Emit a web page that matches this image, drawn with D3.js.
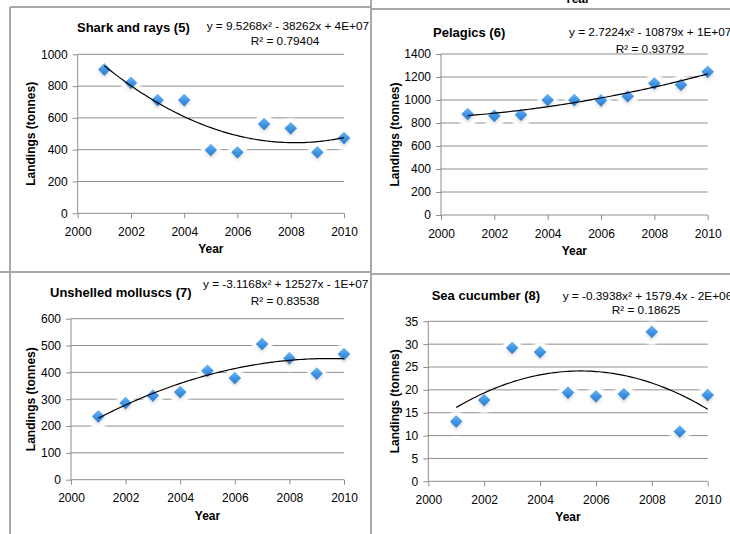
<!DOCTYPE html>
<html><head><meta charset="utf-8">
<script src="https://cdn.jsdelivr.net/npm/d3@7"></script>
<style>body{margin:0;background:#fff}svg{display:block;font-family:"Liberation Sans",Arial,sans-serif}</style>
</head><body><svg id="c" width="730" height="534"></svg>
<script>
// ---- data ----
const years = [2001, 2002, 2003, 2004, 2005, 2006, 2007, 2008, 2009, 2010];
const sharkRays   = [905, 821, 712, 712, 398, 384, 562, 535, 384, 474];
const pelagics    = [878, 864, 872, 1000, 1000, 997, 1032, 1145, 1133, 1246];
const molluscs    = [236, 286, 314, 327, 406, 379, 506, 453, 396, 468];
const seaCucumber = [13.1, 17.8, 29.2, 28.3, 19.4, 18.6, 19.1, 32.7, 10.9, 18.9];
const titles = ["Shark and rays (5)", "Pelagics (6)", "Unshelled molluscs (7)", "Sea cucumber (8)"];
const equations = ["y = 9.5268x² - 38262x + 4E+07", "y = 2.7224x² - 10879x + 1E+07",
                   "y = -3.1168x² + 12527x - 1E+07", "y = -0.3938x² + 1579.4x - 2E+06"];
const r2Labels = ["R² = 0.79404", "R² = 0.93792", "R² = 0.83538", "R² = 0.18625"];
const xTicks = [2000, 2002, 2004, 2006, 2008, 2010];
const yTicksShark = [0, 200, 400, 600, 800, 1000];
const yTicksPelagic = [0, 200, 400, 600, 800, 1000, 1200, 1400];
const yTicksMollusc = [0, 100, 200, 300, 400, 500, 600];
const yTicksCucumber = [0, 5, 10, 15, 20, 25, 30, 35];

// ---- layout ----
const layout = [
  {L:77.7, R:344,   T:54.3,  B:213.3, tx:77,    ty:32,    ex:206.7, ey:29.5,  rx:285, ry:44.5,  ylx:34.5},
  {L:441,  R:707.7, T:54,    B:215,   tx:433,   ty:36.5,  ex:569,   ey:36,    rx:650, ry:52.5,  ylx:399},
  {L:71,   R:344,   T:318.7, B:479.7, tx:50,    ty:296.5, ex:203,   ey:288,   rx:285, ry:304.5, ylx:35},
  {L:428.3,R:707.7, T:321.3, B:481.3, tx:431.7, ty:300,   ex:562.7, ey:299.5, rx:646, ry:314,   ylx:399}
];
const seriesList = [sharkRays, pelagics, molluscs, seaCucumber];
const tickList = [yTicksShark, yTicksPelagic, yTicksMollusc, yTicksCucumber];

const svg = d3.select("#c");
const defs = svg.append("defs");
const g = defs.append("linearGradient").attr("id","mk").attr("x1",0).attr("y1",0).attr("x2",0).attr("y2",1);
g.append("stop").attr("offset","0%").attr("stop-color","#6cb6f4");
g.append("stop").attr("offset","55%").attr("stop-color","#3f92e2");
g.append("stop").attr("offset","100%").attr("stop-color","#2c7ccf");
defs.append("filter").attr("id","halo").attr("x","-50%").attr("y","-50%").attr("width","200%").attr("height","200%")
  .append("feGaussianBlur").attr("stdDeviation",1.2);
defs.append("filter").attr("id","shd").attr("x","-50%").attr("y","-50%").attr("width","200%").attr("height","200%")
  .append("feGaussianBlur").attr("stdDeviation",1.5);

// panel borders
const borderColor = "#a8a8a8";
[[10,7,10,534],[10,7,371,7],[371,0,371,534],[371,9,730,9],[0,272,371,272],[371,274,730,274]]
  .forEach(d => svg.append("line").attr("x1",d[0]).attr("y1",d[1]).attr("x2",d[2]).attr("y2",d[3])
    .attr("stroke",borderColor).attr("stroke-width",2));

// clipped "Year" from a chart above
svg.append("text").attr("x",577).attr("y",3).attr("text-anchor","middle")
  .attr("font-size",12).attr("font-weight","bold").attr("fill","#000").text("Year");

function quadFit(xs, ys){
  const m = d3.mean(xs);
  const u = xs.map(x => x - m);
  const S = k => d3.sum(u, v => Math.pow(v,k));
  const T = k => d3.sum(u, (v,i) => Math.pow(v,k)*ys[i]);
  const A = [[S(0),S(1),S(2)],[S(1),S(2),S(3)],[S(2),S(3),S(4)]];
  const bv = [T(0),T(1),T(2)];
  const det = M => M[0][0]*(M[1][1]*M[2][2]-M[1][2]*M[2][1]) - M[0][1]*(M[1][0]*M[2][2]-M[1][2]*M[2][0]) + M[0][2]*(M[1][0]*M[2][1]-M[1][1]*M[2][0]);
  const D = det(A);
  const coef = [0,1,2].map(j => det(A.map((row,i) => row.map((v,k) => k===j ? bv[i] : v))) / D);
  return x => { const t = x - m; return coef[0] + coef[1]*t + coef[2]*t*t; };
}

seriesList.forEach((vals, p) => {
  const lo = layout[p];
  const ticks = tickList[p];
  const x = d3.scaleLinear().domain([2000, 2010]).range([lo.L, lo.R]);
  const y = d3.scaleLinear().domain([0, d3.max(ticks)]).range([lo.B, lo.T]);
  const gp = svg.append("g");

  // gridlines
  gp.selectAll(".grid").data(ticks.filter(t => t > 0)).enter().append("line")
    .attr("x1", lo.L).attr("x2", lo.R).attr("y1", d => y(d)).attr("y2", d => y(d))
    .attr("stroke", "#8e8e8e").attr("stroke-width", 1);

  // axes
  const yAxis = d3.axisLeft(y).tickValues(ticks).tickSize(5).tickPadding(5).tickFormat(d3.format("d"));
  const ya = gp.append("g").attr("transform", `translate(${lo.L},0)`).call(yAxis);
  const xAxis = d3.axisBottom(x).tickValues(xTicks).tickSize(5).tickPadding(9).tickFormat(d3.format("d"));
  const xa = gp.append("g").attr("transform", `translate(0,${lo.B})`).call(xAxis);
  [ya, xa].forEach(a => {
    a.select(".domain").attr("stroke", "#8e8e8e").attr("stroke-width", 1);
    a.selectAll(".tick line").attr("stroke", "#8e8e8e");
    a.selectAll("text").attr("font-size", 12).attr("fill", "#000").attr("font-family", '"Liberation Sans",Arial,sans-serif');
  });
  xa.select(".domain").attr("d", `M${lo.L},0H${lo.R}`);
  ya.select(".domain").attr("d", `M0,${lo.B}V${lo.T}`);

  // axis titles
  gp.append("text").attr("x", (lo.L + lo.R)/2).attr("y", lo.B + 40).attr("text-anchor","middle")
    .attr("font-size", 12).attr("font-weight","bold").text("Year");
  gp.append("text").attr("transform", `translate(${lo.ylx},${(lo.T + lo.B)/2}) rotate(-90)`)
    .attr("text-anchor","middle").attr("font-size", 12).attr("font-weight","bold").text("Landings (tonnes)");

  // title + equation
  gp.append("text").attr("x", lo.tx).attr("y", lo.ty).attr("font-size", 13).attr("font-weight","bold").text(titles[p]);
  gp.append("text").attr("x", lo.ex).attr("y", lo.ey).attr("font-size", 11.8).text(equations[p]);
  gp.append("text").attr("x", lo.rx).attr("y", lo.ry).attr("text-anchor","middle").attr("font-size", 11.8).text(r2Labels[p]);

  const pts = years.map((yr, i) => ({yr, v: vals[i]}));
  // halos
  gp.selectAll(".halo").data(pts).enter().append("ellipse")
    .attr("cx", d => x(d.yr)).attr("cy", d => y(d.v) + 1.5).attr("rx", 10).attr("ry", 11.5)
    .attr("fill", "#fff").attr("filter", "url(#halo)");
  // soft shadow
  const dia = (cx, cy, r) => `M${cx},${cy - r}L${cx + r},${cy}L${cx},${cy + r}L${cx - r},${cy}Z`;
  gp.selectAll(".shd").data(pts).enter().append("path")
    .attr("d", d => dia(x(d.yr), y(d.v) + 2.5, 6)).attr("fill", "#7a7a7a").attr("opacity", 0.3).attr("filter","url(#shd)");
  // markers
  gp.selectAll(".mk").data(pts).enter().append("path")
    .attr("d", d => dia(x(d.yr), y(d.v), 6.3)).attr("fill", "url(#mk)");

  // trendline
  const f = quadFit(years, vals);
  const xs = d3.range(0, 91).map(i => 2001 + i * 0.1);
  gp.append("path").datum(xs)
    .attr("d", d3.line().x(d => x(d)).y(d => y(f(d))))
    .attr("fill", "none").attr("stroke", "#000").attr("stroke-width", 1.2);
});
</script></body></html>
